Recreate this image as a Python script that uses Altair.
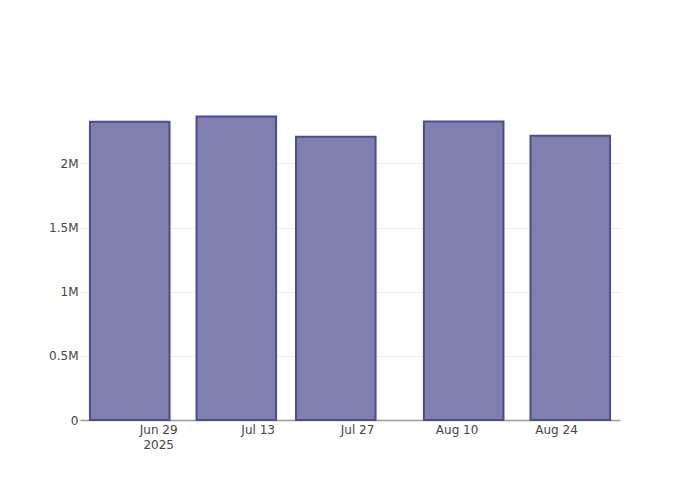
import altair as alt
import pandas as pd

dates = ["2025-06-25", "2025-07-10", "2025-07-24", "2025-08-11", "2025-08-26"]
values = [2325000, 2366000, 2208000, 2327000, 2216000]
tick_dates = ["2025-06-29", "2025-07-13", "2025-07-27", "2025-08-10", "2025-08-24"]
y_ticks = [0, 500000, 1000000, 1500000, 2000000]

df = pd.DataFrame({"date": dates, "value": values})

half_ms = 5.6 * 86400000

x_scale = alt.Scale(domain=[alt.DateTime(year=2025, month=6, date=18, utc=True),
                            alt.DateTime(year=2025, month=9, date=2, utc=True)],
                    type="utc", nice=False, padding=0)

label_expr = ("datum.index == 0 ? [utcFormat(datum.value, '%b %d'), '2025'] : "
              "utcFormat(datum.value, '%b %d')")

tick_vals = [alt.DateTime(year=int(d[:4]), month=int(d[5:7]), date=int(d[8:]), utc=True)
             for d in tick_dates]

chart = alt.Chart(df).transform_calculate(
    t="toDate(datum.date + 'T00:00:00Z')"
).transform_calculate(
    x0=f"datum.t - {half_ms}",
    x1=f"datum.t + {half_ms}",
).mark_bar(
    fill="#7f7fb0", stroke="#4d4d8d", strokeWidth=2, cornerRadius=0, orient="vertical"
).encode(
    x=alt.X("x0:T", scale=x_scale, title=None,
            axis=alt.Axis(values=tick_vals, labelExpr=label_expr, grid=False,
                          ticks=False, domain=True, domainColor="#9a9a9a",
                          domainWidth=1.5, labelPadding=4, labelLineHeight=15,
                          labelBaseline="top")),
    x2="x1:T",
    y=alt.Y("value:Q", scale=alt.Scale(domain=[0, 2495000], nice=False, zero=True, padding=0),
            title=None,
            axis=alt.Axis(values=y_ticks, labelExpr="datum.value == 0 ? '0' : format(datum.value / 1000000, '~g') + 'M'",
                          grid=True, gridColor="#eeeeee", gridWidth=1, ticks=False,
                          domain=False, labelPadding=2)),
    y2=alt.datum(0),
).properties(
    width=540, height=320,
    padding={"left": 72, "top": 92, "right": 72, "bottom": 72},
    autosize=alt.AutoSizeParams(type="none"),
).configure_view(stroke=None).configure_axis(
    labelFont="DejaVu Sans", labelFontSize=12, labelColor="#444444"
)

chart.save("out.html", embed_options={"renderer": "svg", "actions": False})
